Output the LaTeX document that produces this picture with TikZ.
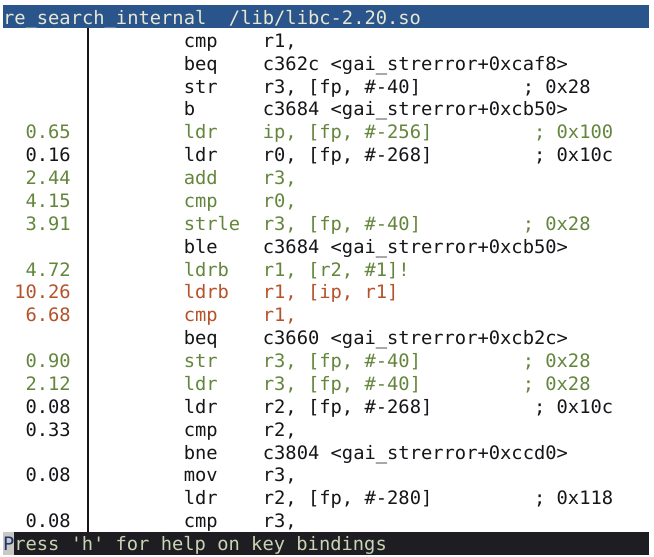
\documentclass[tikz,border=0pt]{standalone}
\usepackage{fontspec}
\newfontfamily\term[FakeStretch=1.0145]{DejaVu Sans Mono}
\definecolor{hdrblue}{RGB}{42,84,140}
\definecolor{hdrtxt}{RGB}{232,232,208}
\definecolor{ink}{RGB}{22,22,26}
\definecolor{lowg}{RGB}{100,134,60}
\definecolor{hotr}{RGB}{182,82,42}
\definecolor{ftrbg}{RGB}{30,30,34}
\definecolor{ftrtxt}{RGB}{200,212,180}
\definecolor{cursorbg}{RGB}{200,200,196}
\definecolor{cursortxt}{RGB}{30,50,110}
\tikzset{
  txt/.style={inner sep=0pt, outer sep=0pt, anchor=base west, font=\term\fontsize{18.5}{20}\selectfont},
  bar/.style={inner sep=0pt, outer sep=0pt, anchor=north west, minimum width=646pt, minimum height=22.9pt},
}
% name, column, row, colour, text
\newcommand\cellt[5]{\node[txt,text=#4] (#1) at ({3+#2*11.3},{24.5+#3*22.87}) {#5};}
\begin{document}
\begin{tikzpicture}[x=1pt,y=-1pt]
\useasboundingbox[fill=white] (0,0) rectangle (654,557);
% bars
\node[bar,fill=hdrblue] (hdr) at (3,5) {};
\node[bar,fill=ftrbg] (ftr) at (3,531.7) {};
\node[inner sep=0pt, outer sep=0pt, anchor=north west, minimum width=11.3pt, minimum height=22.9pt, fill=cursorbg] (cur) at (3,531.7) {};
% separator line
\coordinate (vt) at (87.8,27.9);
\coordinate (vb) at (87.8,531.7);
\draw[line width=2.4pt, ink] (vt) -- (vb);
% header and footer text
\cellt{title}{0}{0}{hdrtxt}{re\_search\_internal\ \ /lib/libc-2.20.so}
\cellt{fp}{0}{23}{cursortxt}{P}
\cellt{ftxt}{1}{23}{ftrtxt}{ress \textquotesingle h\textquotesingle\ for help on key bindings}
% row 1
\cellt{m1}{16}{1}{ink}{cmp}
\cellt{o1}{23}{1}{ink}{r1,}
% row 2
\cellt{m2}{16}{2}{ink}{beq}
\cellt{o2}{23}{2}{ink}{c362c <gai\_strerror+0xcaf8>}
% row 3
\cellt{m3}{16}{3}{ink}{str}
\cellt{o3}{23}{3}{ink}{r3, [fp, \#-40]}
\cellt{c3}{46}{3}{ink}{; 0x28}
% row 4
\cellt{m4}{16}{4}{ink}{b}
\cellt{o4}{23}{4}{ink}{c3684 <gai\_strerror+0xcb50>}
% row 5
\cellt{n5}{2}{5}{lowg}{0.65}
\cellt{m5}{16}{5}{lowg}{ldr}
\cellt{o5}{23}{5}{lowg}{ip, [fp, \#-256]}
\cellt{c5}{47}{5}{lowg}{; 0x100}
% row 6
\cellt{n6}{2}{6}{ink}{0.16}
\cellt{m6}{16}{6}{ink}{ldr}
\cellt{o6}{23}{6}{ink}{r0, [fp, \#-268]}
\cellt{c6}{47}{6}{ink}{; 0x10c}
% row 7
\cellt{n7}{2}{7}{lowg}{2.44}
\cellt{m7}{16}{7}{lowg}{add}
\cellt{o7}{23}{7}{lowg}{r3,}
% row 8
\cellt{n8}{2}{8}{lowg}{4.15}
\cellt{m8}{16}{8}{lowg}{cmp}
\cellt{o8}{23}{8}{lowg}{r0,}
% row 9
\cellt{n9}{2}{9}{lowg}{3.91}
\cellt{m9}{16}{9}{lowg}{strle}
\cellt{o9}{23}{9}{lowg}{r3, [fp, \#-40]}
\cellt{c9}{46}{9}{lowg}{; 0x28}
% row 10
\cellt{m10}{16}{10}{ink}{ble}
\cellt{o10}{23}{10}{ink}{c3684 <gai\_strerror+0xcb50>}
% row 11
\cellt{n11}{2}{11}{lowg}{4.72}
\cellt{m11}{16}{11}{lowg}{ldrb}
\cellt{o11}{23}{11}{lowg}{r1, [r2, \#1]!}
% row 12
\cellt{n12}{1}{12}{hotr}{10.26}
\cellt{m12}{16}{12}{hotr}{ldrb}
\cellt{o12}{23}{12}{hotr}{r1, [ip, r1]}
% row 13
\cellt{n13}{2}{13}{hotr}{6.68}
\cellt{m13}{16}{13}{hotr}{cmp}
\cellt{o13}{23}{13}{hotr}{r1,}
% row 14
\cellt{m14}{16}{14}{ink}{beq}
\cellt{o14}{23}{14}{ink}{c3660 <gai\_strerror+0xcb2c>}
% row 15
\cellt{n15}{2}{15}{lowg}{0.90}
\cellt{m15}{16}{15}{lowg}{str}
\cellt{o15}{23}{15}{lowg}{r3, [fp, \#-40]}
\cellt{c15}{46}{15}{lowg}{; 0x28}
% row 16
\cellt{n16}{2}{16}{lowg}{2.12}
\cellt{m16}{16}{16}{lowg}{ldr}
\cellt{o16}{23}{16}{lowg}{r3, [fp, \#-40]}
\cellt{c16}{46}{16}{lowg}{; 0x28}
% row 17
\cellt{n17}{2}{17}{ink}{0.08}
\cellt{m17}{16}{17}{ink}{ldr}
\cellt{o17}{23}{17}{ink}{r2, [fp, \#-268]}
\cellt{c17}{47}{17}{ink}{; 0x10c}
% row 18
\cellt{n18}{2}{18}{ink}{0.33}
\cellt{m18}{16}{18}{ink}{cmp}
\cellt{o18}{23}{18}{ink}{r2,}
% row 19
\cellt{m19}{16}{19}{ink}{bne}
\cellt{o19}{23}{19}{ink}{c3804 <gai\_strerror+0xccd0>}
% row 20
\cellt{n20}{2}{20}{ink}{0.08}
\cellt{m20}{16}{20}{ink}{mov}
\cellt{o20}{23}{20}{ink}{r3,}
% row 21
\cellt{m21}{16}{21}{ink}{ldr}
\cellt{o21}{23}{21}{ink}{r2, [fp, \#-280]}
\cellt{c21}{47}{21}{ink}{; 0x118}
% row 22
\cellt{n22}{2}{22}{ink}{0.08}
\cellt{m22}{16}{22}{ink}{cmp}
\cellt{o22}{23}{22}{ink}{r3,}
\end{tikzpicture}
\end{document}
